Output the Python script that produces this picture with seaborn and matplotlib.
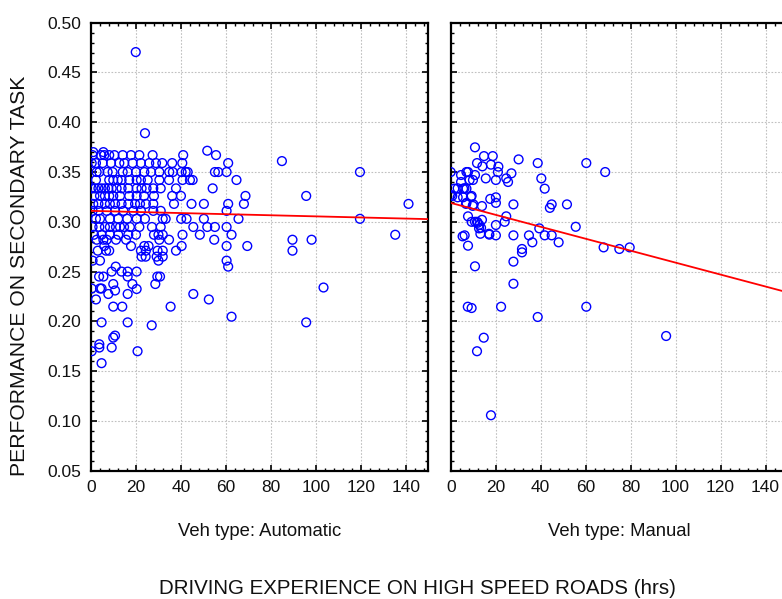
import numpy as np
import pandas as pd
import matplotlib
matplotlib.use("Agg")
import matplotlib.pyplot as plt
from matplotlib.ticker import MultipleLocator
import seaborn as sns

# ---------- data ----------
# Veh type: Automatic  (hours on high speed roads, performance)
auto_hours = [
    1.0, 5.5,
    0.7, 4.4, 5.9, 8.1, 10.4, 14.1, 17.8, 21.5, 27.4, 41.0, 55.6,
    0.3, 2.2, 5.2, 8.9, 12.6, 14.8, 18.5, 22.2, 25.9, 28.9, 31.7, 36.1, 40.6, 61.0,
    2.5, 3.7, 7.4, 9.6, 14.1, 16.3, 20.0, 23.7, 26.7, 30.4, 34.8, 36.4, 40.3, 42.1, 43.0, 55.1, 56.6, 60.3, 119.6,
    2.2, 8.1, 9.9, 11.9, 13.6, 17.0, 20.3, 22.2, 25.2, 30.4, 34.7, 40.7, 44.0, 45.2, 64.7,
    0.3, 1.8, 3.3, 4.7, 6.2, 7.7, 9.2, 11.4, 13.6, 16.6, 20.3, 22.5, 24.7, 27.7, 31.0, 37.8, 54.1,
    1.5, 4.0, 6.2, 8.1, 9.9, 12.9, 17.0, 20.3, 23.6, 28.0, 36.1, 40.0, 68.7, 95.7,
    1.0, 3.3, 6.2, 8.4, 10.7, 13.6, 16.6, 19.6, 21.8, 24.4, 27.7, 36.9, 44.7, 50.2, 61.0, 68.0, 141.2,
    0.7, 3.3, 7.0, 10.7, 14.4, 18.8, 22.2, 27.7, 31.0, 60.3,
    2.2, 4.0, 8.4, 12.1, 16.1, 20.3, 24.0, 31.9, 33.2, 40.1, 42.5, 50.2, 65.6, 119.6,
    0.7, 3.7, 6.2, 8.4, 11.1, 12.9, 14.7, 17.3, 21.5, 27.1, 31.0, 45.5, 51.7, 55.1, 60.3,
    1.3, 4.7, 8.4, 12.1, 16.6, 20.0, 28.0, 30.0, 31.9, 40.7, 48.4, 62.5, 135.3,
    2.5, 5.5, 7.0, 11.1, 15.6, 30.4, 34.7, 54.8, 89.6, 98.1,
    5.9, 17.8, 23.7, 25.6, 40.3, 60.3, 69.5,
    3.0, 6.7, 8.1, 22.2, 24.4, 29.6, 31.9, 37.8, 89.6,
    22.5, 24.3, 29.2, 31.9,
    0.7, 4.0, 30.0, 60.3, 61.0, 11.0,
    9.2, 13.6, 16.3, 20.3,
    3.6, 5.5, 16.3, 29.5, 30.7,
    9.9, 18.4, 28.6,
    0.3, 4.0, 4.7, 10.7, 20.3, 103.4,
    7.7, 16.3, 45.5,
    2.2, 52.4,
    9.9, 13.9, 35.4,
    62.5,
    4.7, 16.3, 95.7, 27.0,
    10.7, 9.9,
    3.7, 3.7, 9.2,
    0.3, 20.7,
    4.7,
    19.9, 24.0, 51.7, 84.9,
]
auto_perf = (
    [0.370] * 2
    + [0.367] * 11
    + [0.359] * 14
    + [0.350] * 19
    + [0.342] * 15
    + [0.3336] * 17
    + [0.326] * 14
    + [0.318] * 17
    + [0.311] * 10
    + [0.303] * 14
    + [0.2948] * 15
    + [0.287] * 13
    + [0.282] * 10
    + [0.2757] * 7
    + [0.271] * 9
    + [0.265] * 4
    + [0.261, 0.261, 0.261, 0.261, 0.255, 0.255]
    + [0.250] * 4
    + [0.245] * 5
    + [0.2375] * 3
    + [0.233, 0.233, 0.233, 0.231, 0.2325, 0.234]
    + [0.2275] * 3
    + [0.222] * 2
    + [0.2148] * 3
    + [0.2047]
    + [0.199, 0.199, 0.199, 0.196]
    + [0.1857, 0.1837]
    + [0.177, 0.1737, 0.1737]
    + [0.170, 0.170]
    + [0.158]
    + [0.4705, 0.389, 0.3714, 0.361]
)

# Veh type: Manual
manual_hours = [
    10.8, 14.8, 18.7, 30.2, 38.7, 60.3, 11.7, 14.1, 17.9, 21.2,
    21.0, 68.7, 0.0, 4.6, 7.0, 7.7, 10.8, 27.0, 24.7, 25.5,
    8.4, 9.9, 4.6, 15.6, 20.1, 40.3, 41.8, 1.6, 5.5, 7.0,
    0.7, 3.1, 5.5, 9.3, 17.6, 20.1, 7.0, 10.1, 20.1, 13.9,
    27.9, 44.9, 44.1, 51.7, 7.7, 13.9, 24.7, 24.0, 9.3, 10.8,
    11.7, 20.1, 12.6, 55.6, 39.4, 6.2, 13.2, 17.0, 20.1, 27.9,
    34.8, 41.8, 44.9, 36.3, 48.0, 7.7, 68.0, 75.0, 79.6, 31.7,
    31.7, 27.9, 10.8, 27.9, 7.6, 9.3, 22.4, 38.7, 60.3, 95.8,
    14.7, 11.7, 17.9,
    0.1, 3.1, 6.1, 9.0, 12.7, 13.5, 5.3, 17.2, 6.8, 9.8, 12.0,
]
manual_perf = [
    0.3748, 0.366, 0.366, 0.3627, 0.359, 0.359, 0.359, 0.3557, 0.3574, 0.3554,
    0.350, 0.350, 0.350, 0.347, 0.350, 0.350, 0.347, 0.3487, 0.3436, 0.340,
    0.342, 0.342, 0.340, 0.3436, 0.342, 0.3436, 0.3333, 0.3333, 0.3333, 0.3333,
    0.326, 0.3246, 0.3246, 0.326, 0.323, 0.3246, 0.319, 0.3175, 0.319, 0.3158,
    0.3175, 0.3175, 0.314, 0.3175, 0.3055, 0.302, 0.3055, 0.300, 0.300, 0.300,
    0.300, 0.2968, 0.2934, 0.295, 0.2934, 0.2864, 0.288, 0.288, 0.2864, 0.2864,
    0.2864, 0.2864, 0.2864, 0.2794, 0.2794, 0.276, 0.2743, 0.2727, 0.2743, 0.2727,
    0.2693, 0.260, 0.2553, 0.2378, 0.2147, 0.2134, 0.2147, 0.2044, 0.2147, 0.1853,
    0.1836, 0.170, 0.1057,
    0.327, 0.3337, 0.3337, 0.325, 0.297, 0.294, 0.2854, 0.2871, 0.318, 0.316, 0.299,
]

# fitted regression lines (end points)
fit_hours = [0, 150]
fit_auto = [0.311, 0.3027]
fit_manual = [0.319, 0.229]

panel_titles = ["Veh type: Automatic", "Veh type: Manual"]
x_ticks = [0, 20, 40, 60, 80, 100, 120, 140]
y_ticks = [0.05, 0.10, 0.15, 0.20, 0.25, 0.30, 0.35, 0.40, 0.45, 0.50]

auto = pd.DataFrame({"hours": auto_hours, "perf": auto_perf})
manual = pd.DataFrame({"hours": manual_hours, "perf": manual_perf})

# ---------- plot ----------
sns.set_style("white")
plt.rcParams["font.family"] = ["Liberation Sans", "DejaVu Sans"]

W, H = 782, 599
fig = plt.figure(figsize=(W / 100, H / 100), dpi=100)
ax_w = 337.3 / W
ax_b = (H - 470.7) / H
ax_h = 448.0 / H
ax1 = fig.add_axes([91 / W, ax_b, ax_w, ax_h])
ax2 = fig.add_axes([450.7 / W, ax_b, ax_w, ax_h])

for ax, df, fit in [(ax1, auto, fit_auto), (ax2, manual, fit_manual)]:
    ax.grid(True, which="major", linestyle=(0, (1.5, 1.5)), color="#c0c0c0", linewidth=0.8)
    ax.set_axisbelow(True)
    sns.scatterplot(data=df, x="hours", y="perf", ax=ax, marker="o", s=40,
                    facecolors="none", edgecolor="#0000ff", linewidth=1.0, zorder=3)
    sns.lineplot(x=fit_hours, y=fit, ax=ax, color="#ff0000", linewidth=1.3, zorder=4)
    ax.set_xlim(0, 150)
    ax.set_ylim(0.05, 0.50)
    ax.set_xticks(x_ticks)
    ax.set_yticks(y_ticks)
    ax.xaxis.set_minor_locator(MultipleLocator(4))
    ax.yaxis.set_minor_locator(MultipleLocator(0.01))
    ax.tick_params(which="both", direction="in", bottom=True, left=True,
                   top=True, right=True, color="black")
    ax.tick_params(which="major", length=4, width=1.2, labelsize=12.5, labelcolor="#111111")
    ax.tick_params(which="minor", length=2.5, width=1.0)
    ax.tick_params(axis="x", pad=7)
    ax.tick_params(axis="y", pad=7)
    ax.set_xlabel("")
    ax.set_ylabel("")
    for sp in ax.spines.values():
        sp.set_color("black")
        sp.set_linewidth(1.6)

ax1.yaxis.set_major_formatter(plt.FormatStrFormatter("%.2f"))
ax2.tick_params(axis="y", labelleft=False)

fig.text(260 / W, 1 - 531 / H, panel_titles[0], ha="center", va="center", fontsize=13.3, color="#111111")
fig.text(619 / W, 1 - 531 / H, panel_titles[1], ha="center", va="center", fontsize=13.3, color="#111111")
fig.text(417.5 / W, 1 - 588 / H, "DRIVING EXPERIENCE ON HIGH SPEED ROADS (hrs)",
         ha="center", va="center", fontsize=14.8, color="#111111")
fig.text(20 / W, 1 - 276 / H, "PERFORMANCE ON SECONDARY TASK", rotation=90,
         ha="center", va="center", fontsize=15.2, color="#111111")

fig.savefig("out.png", dpi=100)
